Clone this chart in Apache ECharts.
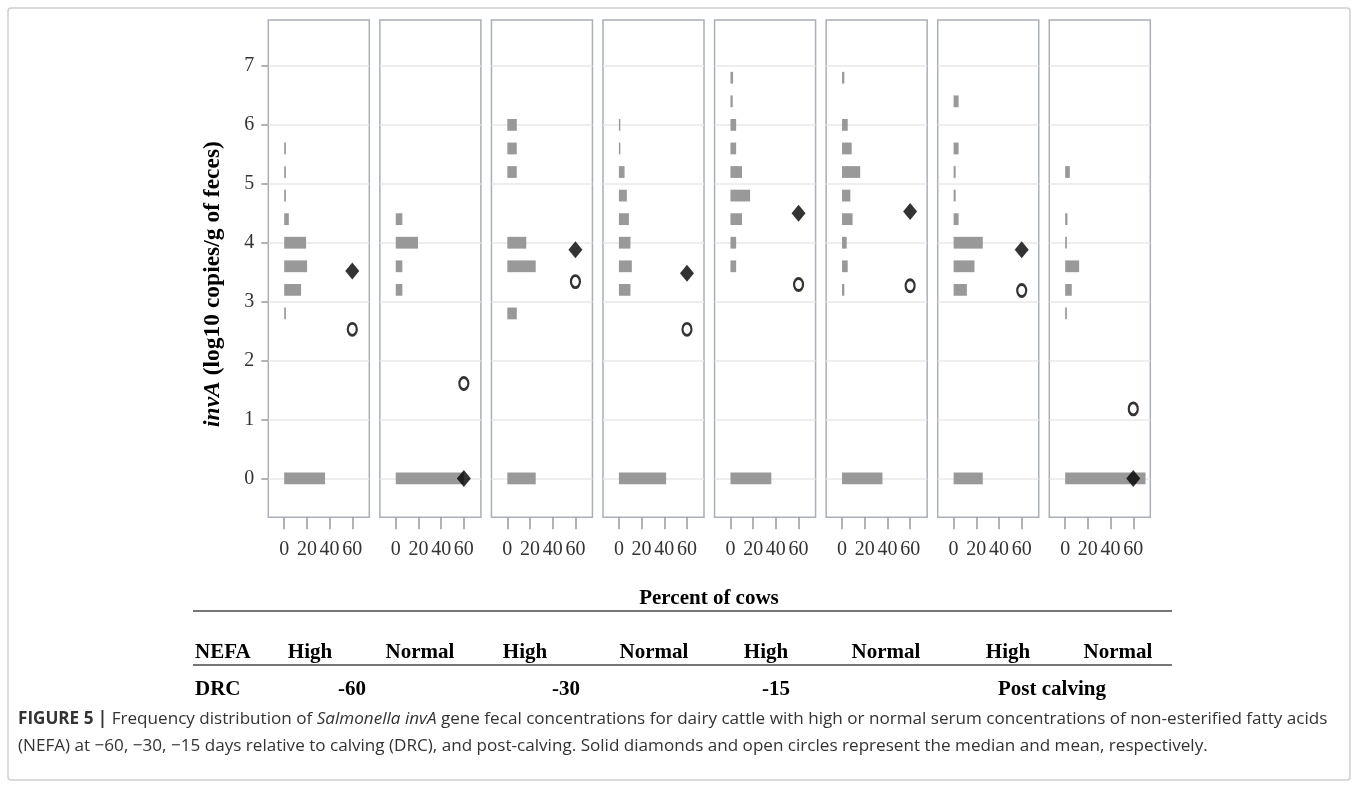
<!DOCTYPE html>
<html>
<head>
<meta charset="utf-8">
<script src="https://cdn.jsdelivr.net/npm/echarts@6/dist/echarts.min.js"></script>
<style>
  html, body { margin: 0; padding: 0; background: #fff; }
  #chart { width: 1358px; height: 787px; }
</style>
</head>
<body>
<div id="chart"></div>
<script>
// invA bins (log10 copies/g) and percent of cows in each bin, one list per panel
const bins = [0, 2.8, 3.2, 3.6, 4.0, 4.4, 4.8, 5.2, 5.6, 6.0, 6.4, 6.8];
const highM60   = [36.0, 1.5, 14.9, 20.2, 19.3, 4.1, 1.5, 1.5, 1.5, 0, 0, 0];
const normalM60 = [60.0, 0, 5.8, 5.8, 19.6, 5.8, 0, 0, 0, 0, 0, 0];
const highM30   = [25.0, 8.33, 0, 25.0, 16.67, 0, 0, 8.33, 8.33, 8.33, 0, 0];
const normalM30 = [41.6, 0, 10.2, 11.4, 10.2, 8.8, 7.0, 5.0, 1.3, 1.3, 0, 0];
const highM15   = [36.0, 0, 0, 5.0, 5.0, 10.2, 17.3, 10.2, 5.0, 5.0, 2.0, 2.3];
const normalM15 = [35.6, 0, 2.0, 5.0, 4.1, 9.3, 7.3, 16.0, 8.5, 5.0, 0, 2.0];
const highPost  = [25.7, 0, 11.7, 18.4, 25.7, 4.4, 1.8, 1.8, 4.4, 0, 4.4, 0];
const normalPost = [70.8, 1.5, 5.8, 12.3, 1.5, 2.0, 0, 4.1, 0, 0, 0, 0];
const panelData = [highM60, normalM60, highM30, normalM30, highM15, normalM15, highPost, normalPost];

const medians = [3.52, 0, 3.88, 3.48, 4.50, 4.53, 3.88, 0];
const means = [2.53, 1.61, 3.34, 2.53, 3.29, 3.27, 3.19, 1.18];
const markerX = 60;

const xTicks = [0, 20, 40, 60];
const yTicks = [0, 1, 2, 3, 4, 5, 6, 7];
const nefaLabels = ['High', 'Normal', 'High', 'Normal', 'High', 'Normal', 'High', 'Normal'];
const drcLabels = ['-60', '-30', '-15', 'Post calving'];

const chart = echarts.init(document.getElementById('chart'));

const narrow = 'Liberation Sans Narrow';
const serif = 'Liberation Serif';
const grids = [], xAxes = [], yAxes = [], series = [];

for (let i = 0; i < 8; i++) {
  grids.push({
    left: 268.3 + i * 111.57, top: 20, width: 101, height: 497.3,
    show: true, borderColor: '#a9afb7', borderWidth: 1.5, backgroundColor: '#fff'
  });
  xAxes.push({
    type: 'value', gridIndex: i, min: -14, max: 75,
    axisLine: { show: false, onZero: false },
    axisTick: { show: true, customValues: xTicks, length: 12, lineStyle: { color: '#9a9a9a', width: 1.5 } },
    axisLabel: { customValues: xTicks, margin: 22, fontFamily: narrow, fontSize: 20, color: '#333' },
    splitLine: { show: false }
  });
  yAxes.push({
    type: 'value', gridIndex: i, min: -0.66, max: 7.78, splitNumber: 8,
    axisLine: { show: false, onZero: false },
    axisTick: { show: i === 0, customValues: yTicks, length: 7, lineStyle: { color: '#9a9a9a', width: 1.5 } },
    axisLabel: { show: i === 0, customValues: yTicks, margin: 14, fontFamily: narrow, fontSize: 20, color: '#333' },
    splitLine: { show: true, lineStyle: { color: '#e8e8e8', width: 1.5 } }
  });

  const rows = [];
  panelData[i].forEach((pct, k) => { if (pct > 0) rows.push([bins[k], pct]); });
  series.push({
    type: 'custom', xAxisIndex: i, yAxisIndex: i,
    encode: { x: 1, y: 0 },
    data: rows,
    renderItem: function (params, api) {
      const y = api.value(0), pct = api.value(1);
      const a = api.coord([0, y]);
      const b = api.coord([pct, y]);
      const h = api.size([0, 0.2])[1];
      return {
        type: 'rect',
        shape: { x: a[0], y: a[1] - h / 2, width: b[0] - a[0], height: h },
        style: { fill: '#999' }
      };
    },
    silent: true, z: 2
  });
  series.push({
    type: 'scatter', xAxisIndex: i, yAxisIndex: i,
    data: [[markerX, means[i]]],
    symbol: 'circle', symbolSize: [9, 12],
    itemStyle: { color: '#fff', borderColor: '#000', borderWidth: 2.5 },
    z: 4, silent: true
  });
  series.push({
    type: 'scatter', xAxisIndex: i, yAxisIndex: i,
    data: [[markerX, medians[i]]],
    symbol: 'diamond', symbolSize: [14, 17],
    itemStyle: { color: '#000' },
    z: 5, silent: true
  });
}

const tableFont = { fontFamily: serif, fontWeight: 'bold', fontSize: 21, fill: '#000' };
const graphic = [
  { type: 'rect', shape: { x: 8, y: 8, width: 1342, height: 772, r: 3 },
    style: { fill: 'none', stroke: '#cfcfcf', lineWidth: 1.5 }, silent: true },
  { type: 'text', x: 213, y: 284, rotation: Math.PI / 2,
    style: {
      text: '{i|invA} (log10 copies/g of feces)',
      fontFamily: serif, fontWeight: 'bold', fontSize: 23.5, fill: '#000',
      align: 'center', verticalAlign: 'middle',
      rich: { i: { fontFamily: serif, fontWeight: 'bold', fontStyle: 'italic', fontSize: 23.5, fill: '#000' } }
    } },
  { type: 'text', x: 709, y: 599,
    style: Object.assign({ text: 'Percent of cows', align: 'center', verticalAlign: 'middle' }, tableFont) },
  { type: 'line', shape: { x1: 193, y1: 611, x2: 1172, y2: 611 }, style: { stroke: '#777', lineWidth: 2 } },
  { type: 'line', shape: { x1: 193, y1: 665, x2: 1172, y2: 665 }, style: { stroke: '#777', lineWidth: 2 } },
  { type: 'text', x: 195, y: 653,
    style: Object.assign({ text: 'NEFA', align: 'left', verticalAlign: 'middle' }, tableFont) },
  { type: 'text', x: 195, y: 690,
    style: Object.assign({ text: 'DRC', align: 'left', verticalAlign: 'middle' }, tableFont) }
];
const nefaX = [310, 420, 525, 654, 766, 886, 1008, 1118];
nefaLabels.forEach((t, i) => {
  graphic.push({ type: 'text', x: nefaX[i], y: 653,
    style: Object.assign({ text: t, align: 'center', verticalAlign: 'middle' }, tableFont) });
});
const drcX = [352, 566, 776, 1052];
drcLabels.forEach((t, i) => {
  graphic.push({ type: 'text', x: drcX[i], y: 690,
    style: Object.assign({ text: t, align: 'center', verticalAlign: 'middle' }, tableFont) });
});
const capFont = 'Open Sans';
const capSize = 17.1;
graphic.push({
  type: 'text', x: 18, y: 719,
  style: {
    text: '{b|FIGURE 5 |} Frequency distribution of {i|Salmonella invA} gene fecal concentrations for dairy cattle with high or normal serum concentrations of non-esterified fatty acids',
    fontFamily: capFont, fontSize: capSize, fill: '#333', verticalAlign: 'middle',
    rich: {
      b: { fontFamily: capFont, fontSize: capSize, fontWeight: 'bold', fill: '#333' },
      i: { fontFamily: capFont, fontSize: capSize, fontStyle: 'italic', fill: '#333' }
    }
  }
});
graphic.push({
  type: 'text', x: 18, y: 746,
  style: {
    text: '(NEFA) at \u221260, \u221230, \u221215 days relative to calving (DRC), and post-calving. Solid diamonds and open circles represent the median and mean, respectively.',
    fontFamily: capFont, fontSize: capSize, fill: '#333', verticalAlign: 'middle'
  }
});

chart.setOption({
  animation: false,
  backgroundColor: '#fff',
  grid: grids,
  xAxis: xAxes,
  yAxis: yAxes,
  series: series,
  graphic: graphic
});
</script>
</body>
</html>
